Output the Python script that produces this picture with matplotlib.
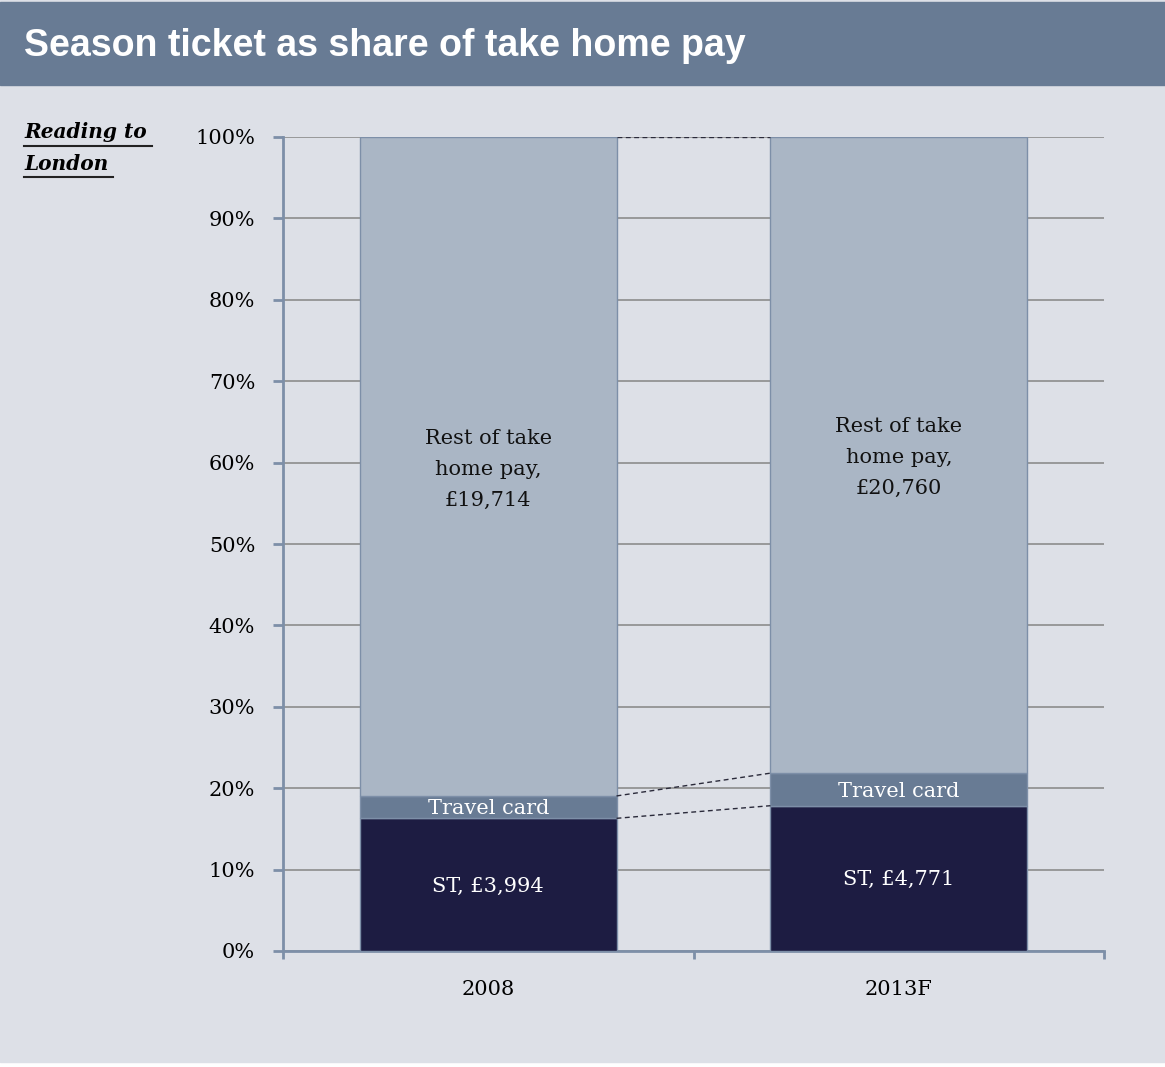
import matplotlib.pyplot as plt
from matplotlib.patches import Rectangle

# share of take home pay, percent
years = ['2008', '2013F']
st_share = [16.3, 17.85]
travel_share = [2.75, 4.0]
rest_share = [100 - s - t for s, t in zip(st_share, travel_share)]

st_labels = ['ST, £3,994', 'ST, £4,771']
rest_labels = ['Rest of take\nhome pay,\n£19,714', 'Rest of take\nhome pay,\n£20,760']
rest_label_pos = [59.2, 60.6]
st_label_pos = [7.9, 8.8]

c_st = '#1d1c42'
c_tc = '#687b94'
c_rest = '#aab6c5'
c_bg = '#dde0e7'
c_edge = '#7d8fa8'
serif = ['DejaVu Serif']
fs = 15

W, H = 1165, 1067
fig = plt.figure(figsize=(W / 100, H / 100), dpi=100, facecolor='white')

# background panel and header band
fig.patches.append(Rectangle((0, 5 / H), 1, 1 - 5 / H, transform=fig.transFigure,
                             color=c_bg, zorder=-2))
fig.patches.append(Rectangle((0, 1 - 85 / H), 1, 83 / H, transform=fig.transFigure,
                             color='#687b94', zorder=-1))
fig.text(24 / W, 1 - 46 / H, 'Season ticket as share of take home pay', color='white',
         fontsize=27, fontweight='bold', family='Liberation Sans', va='center')

ax = fig.add_axes([283 / W, 1 - 951 / H, (1104 - 283) / W, (951 - 137) / H])
ax.set_facecolor('none')

x = [0, 1]
width = 0.625
kw = dict(width=width, edgecolor=c_edge, linewidth=1, zorder=3)
ax.bar(x, st_share, color=c_st, **kw)
ax.bar(x, travel_share, bottom=st_share, color=c_tc, **kw)
tops = [s + t for s, t in zip(st_share, travel_share)]
ax.bar(x, rest_share, bottom=tops, color=c_rest, **kw)

# dashed connectors between the two stacks
for level in [st_share, tops, [100, 100]]:
    ax.plot([x[0] + width / 2, x[1] - width / 2], level, ls=(0, (3.5, 2.5)),
            color='#2a2a3a', lw=1, zorder=4)

for i in x:
    ax.text(i, rest_label_pos[i], rest_labels[i], ha='center', va='center',
            fontsize=fs, family=serif, color='#111111', linespacing=1.8, zorder=5)
    ax.text(i, st_share[i] + travel_share[i] / 2 - 0.2, 'Travel card', ha='center',
            va='center', fontsize=fs, family=serif, color='white', zorder=5)
    ax.text(i, st_label_pos[i], st_labels[i], ha='center', va='center',
            fontsize=fs, family=serif, color='white', zorder=5)

ax.set_xlim(-0.5, 1.5)
ax.set_ylim(0, 100)
ax.set_yticks(range(0, 101, 10))
ax.set_yticklabels([f'{v}%' for v in range(0, 101, 10)], family=serif, fontsize=fs)
ax.yaxis.grid(True, color='#8c8c8c', lw=1.2, zorder=0)
ax.set_axisbelow(True)

ax.set_xticks(x)
ax.set_xticklabels(years, family=serif, fontsize=fs)
ax.tick_params(axis='x', length=0, pad=21)
ax.set_xticks([-0.5, 0.5, 1.5], minor=True)
ax.tick_params(axis='x', which='minor', length=6, width=2, color=c_edge, direction='out')
ax.tick_params(axis='y', length=7, width=2, color=c_edge, direction='out', pad=13)

for side in ['top', 'right']:
    ax.spines[side].set_visible(False)
for side in ['left', 'bottom']:
    ax.spines[side].set_color(c_edge)
    ax.spines[side].set_linewidth(2)

fig.text(24 / W, 1 - 132 / H, 'Reading to', family=serif, style='italic',
         fontweight='bold', fontsize=14.5, va='center')
fig.text(24 / W, 1 - 164 / H, 'London', family=serif, style='italic',
         fontweight='bold', fontsize=14.5, va='center')
fig.lines.append(plt.Line2D([24 / W, 152 / W], [1 - 146 / H, 1 - 146 / H],
                            transform=fig.transFigure, color='#222222', lw=1.5))
fig.lines.append(plt.Line2D([24 / W, 113 / W], [1 - 177 / H, 1 - 177 / H],
                            transform=fig.transFigure, color='#222222', lw=1.5))

fig.savefig('out.png', dpi=100, facecolor='white')
